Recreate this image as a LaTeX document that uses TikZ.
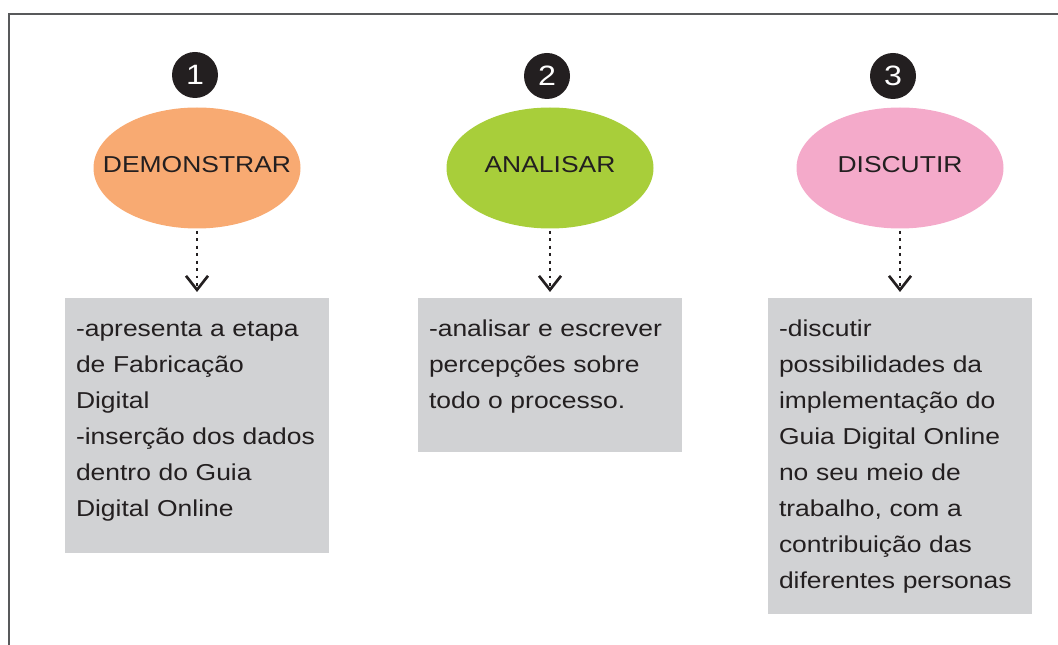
\documentclass[tikz,border=0pt]{standalone}
\usepackage{fontspec}
\setmainfont{Liberation Sans}
\newfontfamily\stretchfont[FakeStretch=1.15]{Liberation Sans}
\usepackage{tikz}
\usetikzlibrary{arrows.meta,shapes.geometric,positioning}
\definecolor{inkgray}{HTML}{231F20}
\definecolor{framegray}{HTML}{58595B}
\definecolor{boxgray}{HTML}{D1D2D4}
\definecolor{demoorange}{HTML}{F8AA72}
\definecolor{anagreen}{HTML}{A8CE3A}
\definecolor{discpink}{HTML}{F4AACA}
\tikzset{font={\stretchfont\fontsize{17.25pt}{27pt}\selectfont}}

\begin{document}
\begin{tikzpicture}[x=0.75pt,y=-0.75pt,
stepnum/.style={circle,fill=inkgray,text=white,inner sep=0pt,minimum size=34.5pt,font={\stretchfont\fontsize{21pt}{24pt}\selectfont}},
stage/.style={ellipse,inner sep=0pt,minimum width=155.25pt,minimum height=90.75pt,label={[text=inkgray,yshift=2.6pt]center:#1}},
infobox/.style={rectangle,fill=boxgray,inner sep=0pt,minimum width=198pt},
infotext/.style={anchor=base west,inner sep=0pt,text=inkgray,text width=181pt,align=left},
flow/.style={line width=2.2pt,inkgray,dash pattern=on 2.2pt off 3.4pt,shorten <=1.5pt,shorten >=4.5pt,-{Straight Barb[length=10.5pt,width=16.5pt,line width=2pt]}}
]
\useasboundingbox (0,0) rectangle (1058,645);
\draw[framegray,line width=1.5pt] (1058,14) -- (9,14) -- (9,645);

%numbers
\node[stepnum] (n1) at (195,75) {1};
\node[stepnum] (n2) at (547,76) {2};
\node[stepnum] (n3) at (893,76) {3};

%stages
\node[stage=DEMONSTRAR,fill=demoorange] (e1) at (197,168) {};
\node[stage=ANALISAR,fill=anagreen] (e2) at (550,168) {};
\node[stage=DISCUTIR,fill=discpink] (e3) at (900,168) {};

%boxes
\node[infobox,anchor=north,minimum height=191.25pt] (b1) at (197,298) {};
\node[infobox,anchor=north,minimum height=115.5pt] (b2) at (550,298) {};
\node[infobox,anchor=north,minimum height=237pt] (b3) at (900,298) {};

\node[infotext] (t1) at ([shift={(11,39)}]b1.north west) {-apresenta a etapa\\de Fabricação\\Digital\\-inserção dos dados\\dentro do Guia\\Digital Online};
\node[infotext] (t2) at ([shift={(11,39)}]b2.north west) {-analisar e escrever\\percepções sobre\\todo o processo.};
\node[infotext] (t3) at ([shift={(11,39)}]b3.north west) {-discutir\\possibilidades da\\implementação do\\Guia Digital Online\\no seu meio de\\trabalho, com a\\contribuição das\\diferentes personas};

%arrows
\draw[flow] (e1.south) -- (b1.north);
\draw[flow] (e2.south) -- (b2.north);
\draw[flow] (e3.south) -- (b3.north);

\end{tikzpicture}
\end{document}
